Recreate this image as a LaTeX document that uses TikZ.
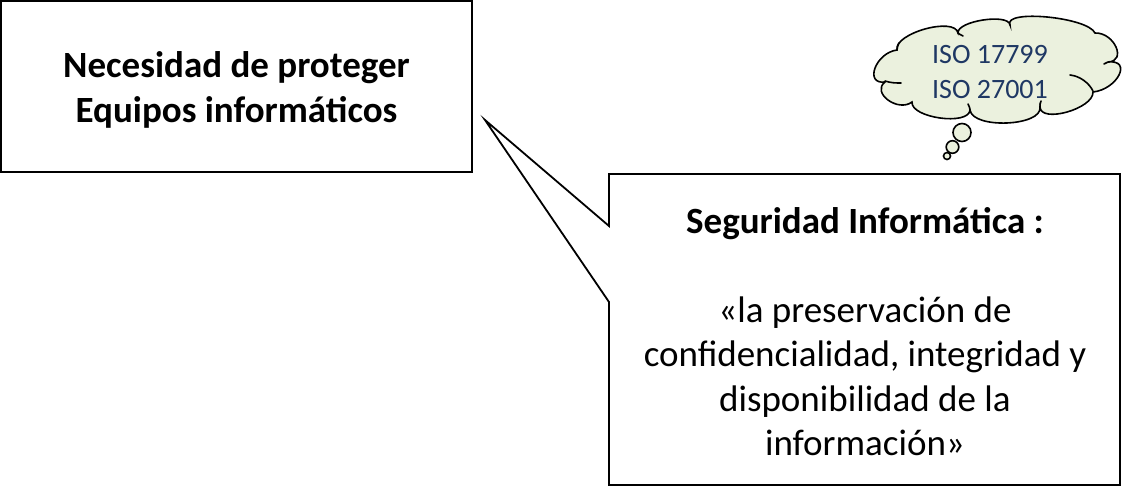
\documentclass[tikz,border=0pt]{standalone}
\usepackage{fontspec}
\setmainfont{Carlito}
\definecolor{cloudfill}{RGB}{235,241,222}
\definecolor{isoblue}{RGB}{31,56,100}
\begin{document}
\begin{tikzpicture}[x=1pt,y=-1pt,line join=miter]
\tikzset{
  boxline/.style={draw=black,line width=1.8pt},
  bigtext/.style={font=\fontsize{37}{44.5}\selectfont,align=center,inner sep=0pt},
  cloudline/.style={draw=black,line width=1.6pt,fill=cloudfill},
  innerarc/.style={draw=black,line width=1.6pt,line cap=round},
}
\useasboundingbox (0,0) rectangle (1125,488);
% left box
\node[boxline,minimum width=471pt,minimum height=171pt,inner sep=0pt] (need) at (236.5,86.5) {};
\node[bigtext,font=\fontsize{37}{45}\selectfont\bfseries] (needtxt) at ([yshift=-3pt]need.center)
      {Necesidad de proteger\\Equipos informáticos};
% callout
\coordinate (tip) at (485,120);
\coordinate (ctl) at (609,174);
\coordinate (ctr) at (1120,174);
\coordinate (cbr) at (1120,485);
\coordinate (cbl) at (609,485);
\coordinate (cp1) at (609,226);
\coordinate (cp2) at (609,302);
\draw[boxline] (ctl) -- (ctr) -- (cbr) -- (cbl) -- (cp2) -- (tip) -- (cp1) -- cycle;
\node[bigtext,anchor=north] (def) at (865,207)
  {\textbf{Seguridad Informática :}\\[44.5pt]«la preservación de\\confidencialidad, integridad y\\disponibilidad de la\\información»};
% thought cloud
\path[cloudline] (897,50)
  .. controls (893.7,33.3) and (954.7,16.3) .. (958,33)
  .. controls (956.7,21) and (1008.7,13) .. (1010,25)
  .. controls (1002.7,9) and (1087.7,17) .. (1095,33)
  .. controls (1114.3,32.3) and (1127.3,61.3) .. (1108,62)
  .. controls (1132.7,59.3) and (1117.7,89.3) .. (1093,92)
  .. controls (1093.7,108.7) and (1040.7,123.7) .. (1040,107)
  .. controls (1042.7,126.3) and (972.7,129.3) .. (970,110)
  .. controls (968.7,126) and (910.7,118) .. (912,102)
  .. controls (898,112.7) and (871,92.7) .. (885,82)
  .. controls (863.7,84.7) and (875.7,52.7) .. (897,50) -- cycle;
\draw[innerarc] (885,81) .. controls (891,83) and (896,83) .. (901,83);
\draw[innerarc] (1070,75) .. controls (1080,76) and (1089,83) .. (1093,91);
\draw[innerarc] (897,50) .. controls (897,47) and (898,45) .. (899,43);
\draw[innerarc] (1108,62) -- (1104,64);
\draw[innerarc] (1040,107) .. controls (1040,105) and (1040,103) .. (1041,101);
\draw[innerarc] (970,110) .. controls (970,108) and (969,106) .. (968,104);
\draw[innerarc] (958,33) .. controls (959,34) and (961,35) .. (963,36);
\node[font=\fontsize{28}{35}\selectfont,text=isoblue,align=left,inner sep=0pt,anchor=north] (iso) at (990,45)
  {ISO 17799\\ISO 27001};
\draw[cloudline] (962,132.5) circle[radius=9];
\draw[cloudline] (952.5,147) circle[radius=6.3];
\draw[cloudline] (947,156) circle[radius=3.5];
\end{tikzpicture}
\end{document}
